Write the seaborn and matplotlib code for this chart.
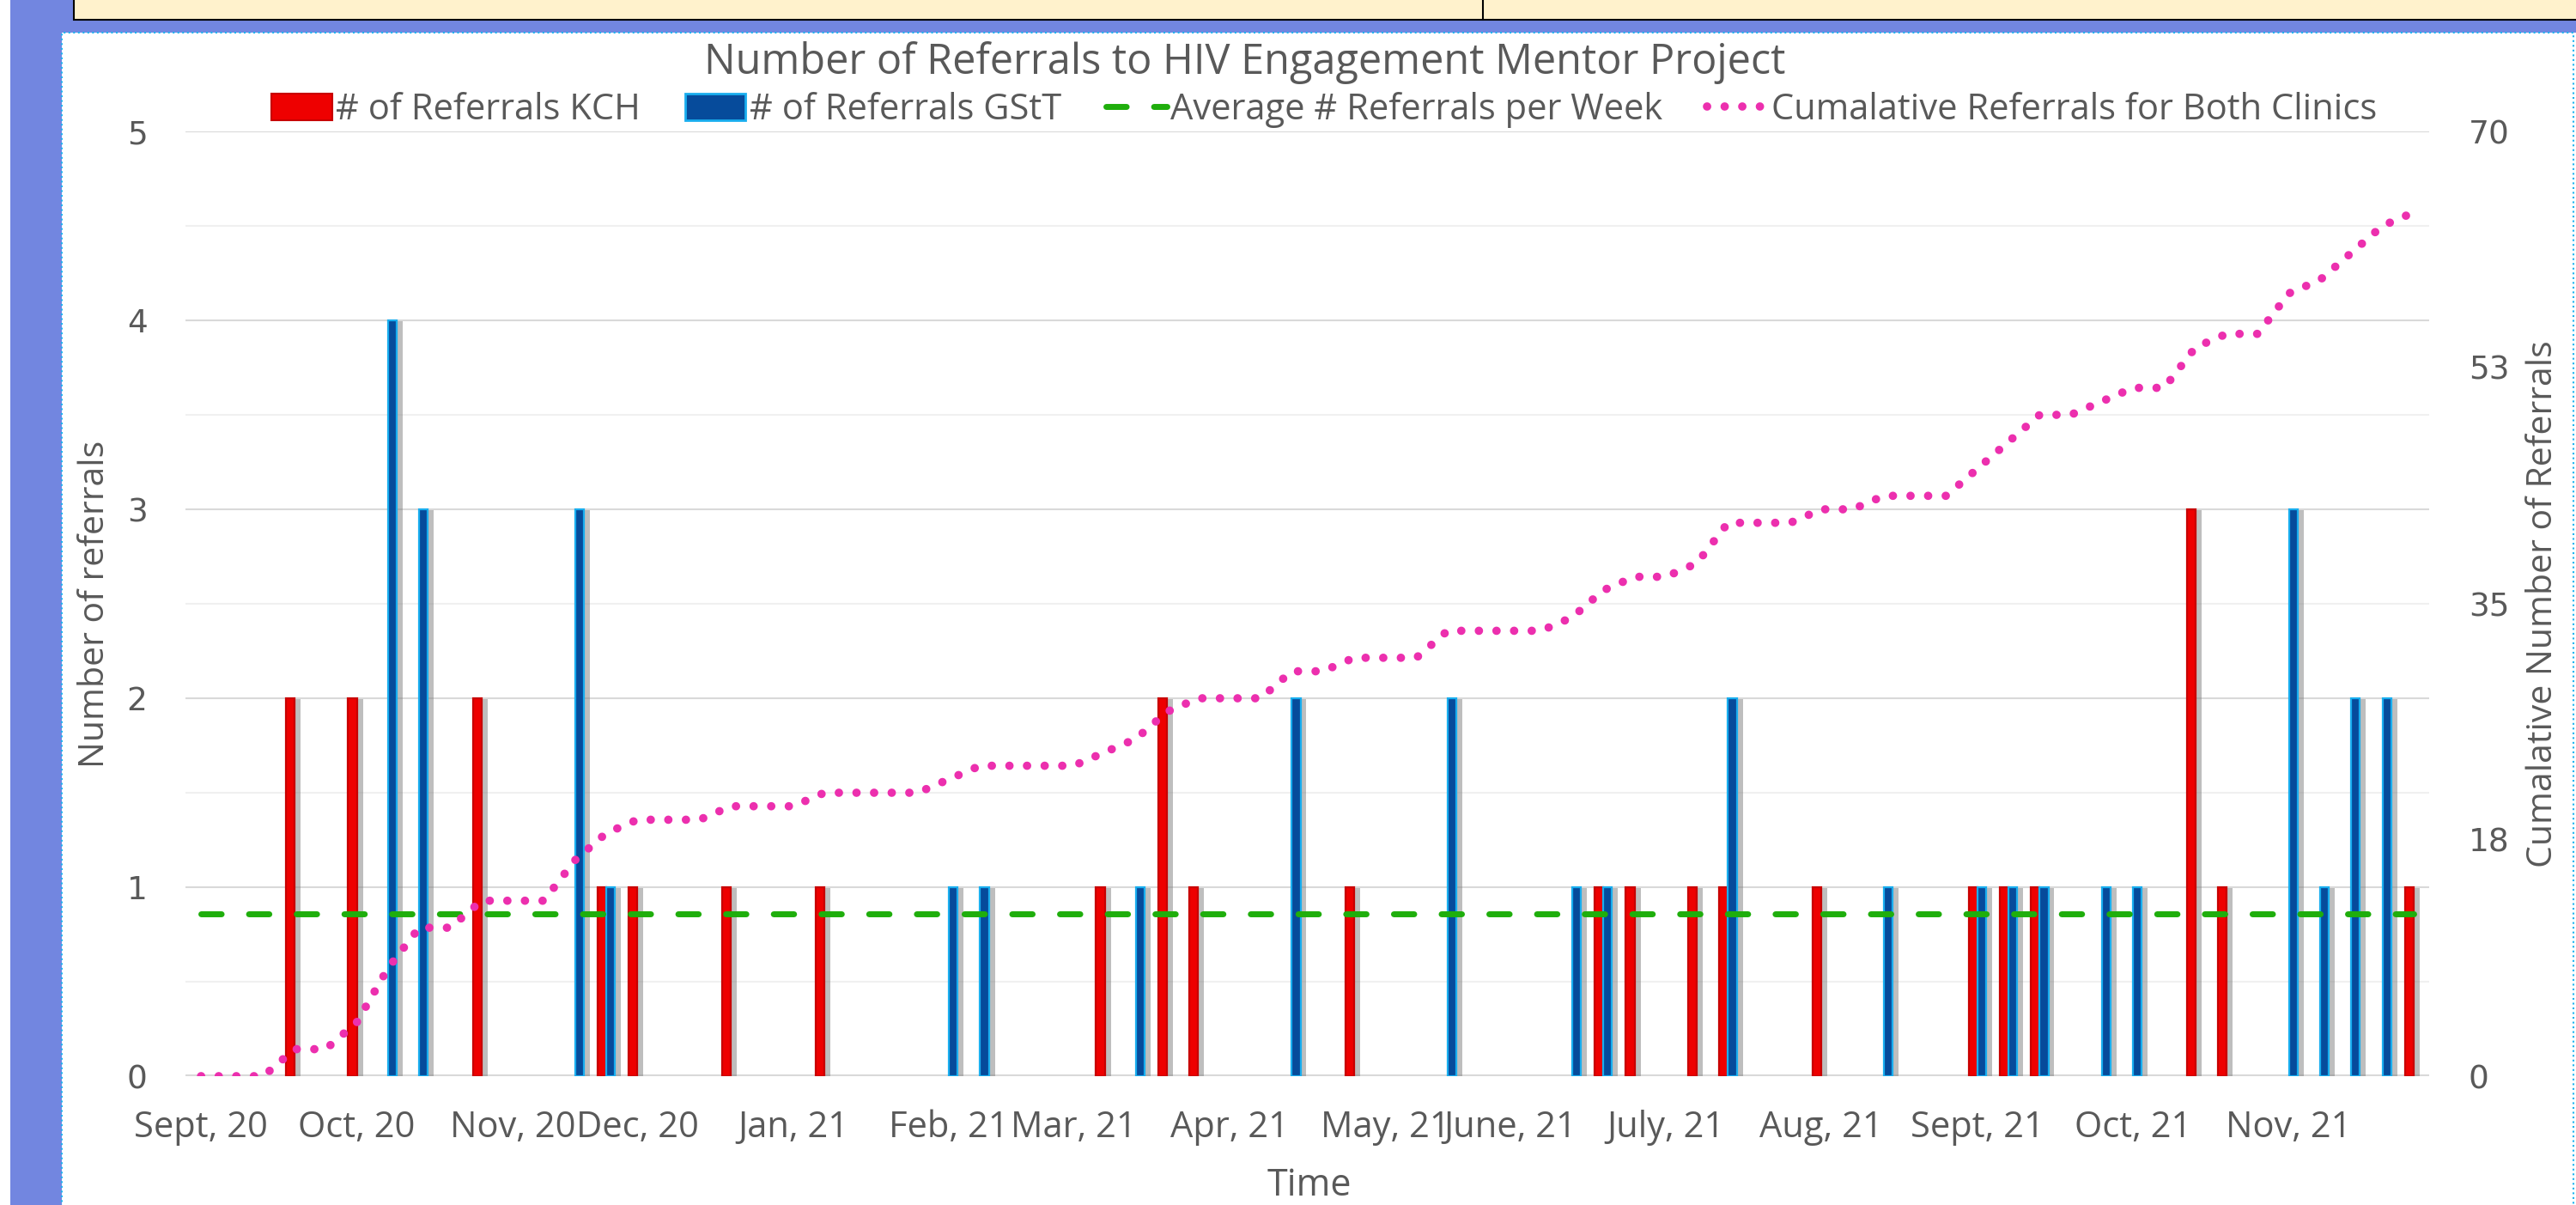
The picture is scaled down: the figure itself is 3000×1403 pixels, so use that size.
import numpy as np
import pandas as pd
import matplotlib
matplotlib.use("Agg")
import matplotlib.pyplot as plt
import matplotlib.patheffects as pe
from matplotlib.patches import Rectangle
from matplotlib.lines import Line2D
from matplotlib.ticker import FixedLocator, FuncFormatter
import seaborn as sns
import math

# weekly referrals, Sept 2020 - Nov 2021 (72 weeks)
kch_referrals = [0, 0, 0, 2, 0, 2, 0, 0, 0, 2,
                 0, 0, 0, 1, 1, 0, 0, 1, 0, 0,
                 1, 0, 0, 0, 0, 0, 0, 0, 0, 1,
                 0, 2, 1, 0, 0, 0, 0, 1, 0, 0,
                 0, 0, 0, 0, 0, 1, 1, 0, 1, 1,
                 0, 0, 1, 0, 0, 0, 0, 1, 1, 1,
                 0, 0, 0, 0, 3, 1, 0, 0, 0, 0,
                 0, 1]
gstt_referrals = [0, 0, 0, 0, 0, 0, 4, 3, 0, 0,
                  0, 0, 3, 1, 0, 0, 0, 0, 0, 0,
                  0, 0, 0, 0, 1, 1, 0, 0, 0, 0,
                  1, 0, 0, 0, 0, 2, 0, 0, 0, 0,
                  2, 0, 0, 0, 1, 1, 0, 0, 0, 2,
                  0, 0, 0, 0, 1, 0, 0, 1, 1, 1,
                  0, 1, 1, 0, 0, 0, 0, 3, 1, 2,
                  2, 0]
cumulative = [0, 0, 0, 2, 2, 4, 8, 11, 11, 13,
              13, 13, 16, 18, 19, 19, 19, 20, 20, 20,
              21, 21, 21, 21, 22, 23, 23, 23, 23, 24,
              25, 27, 28, 28, 28, 30, 30, 31, 31, 31,
              33, 33, 33, 33, 34, 36, 37, 37, 38, 41,
              41, 41, 42, 42, 43, 43, 43, 45, 47, 49,
              49, 50, 51, 51, 54, 55, 55, 58, 59, 61,
              63, 64]
avg_per_week = 0.86

month_labels = {0: "Sept, 20", 5: "Oct, 20", 10: "Nov, 20", 14: "Dec, 20",
                19: "Jan, 21", 24: "Feb, 21", 28: "Mar, 21", 33: "Apr, 21",
                38: "May, 21", 42: "June, 21", 47: "July, 21", 52: "Aug, 21",
                57: "Sept, 21", 62: "Oct, 21", 67: "Nov, 21"}

weeks = list(range(len(kch_referrals)))
week_labels = [month_labels.get(w, "") for w in weeks]

RED = "#EE0000"
BLUE = "#064B9B"
BLUE_EDGE = "#19AEEF"
GREEN = "#1FAE0C"
PINK = "#EC2FAE"
GREY_TXT = "#595959"

sns.set_style("white")
plt.rcParams['font.family'] = ['Open Sans', 'DejaVu Sans']

W, H = 3000, 1403
fig = plt.figure(figsize=(W / 100, H / 100), dpi=100)


def px_rect(x0, y0, x1, y1, **kw):
    # rectangle given in pixel coords measured from the top-left corner
    return Rectangle((x0 / W, 1 - y1 / H), (x1 - x0) / W, (y1 - y0) / H,
                     transform=fig.transFigure, **kw)


# slide decoration around the chart
fig.add_artist(px_rect(12, 0, W, 38, facecolor="#7286E0", edgecolor="none"))
fig.add_artist(px_rect(12, 0, 72, H, facecolor="#7286E0", edgecolor="none"))
fig.add_artist(px_rect(86, -5, W + 5, 23, facecolor="#FFF2CC", edgecolor="black", lw=1.5))
fig.add_artist(Line2D([1727 / W, 1727 / W], [1, 1 - 23 / H], transform=fig.transFigure, color="black", lw=1.5))
fig.add_artist(px_rect(72, 38, 2997, H + 5, facecolor="white", edgecolor="#1FB4F0", lw=1.5, linestyle=":"))

ax = fig.add_axes([216 / W, 150 / H, (2829 - 216) / W, 1100 / H])
ax.set_zorder(1)

df = pd.DataFrame({
    "week": weeks * 2,
    "count": kch_referrals + gstt_referrals,
    "clinic": ["KCH"] * len(weeks) + ["GStT"] * len(weeks),
})
sns.barplot(data=df, x="week", y="count", hue="clinic", order=weeks,
            hue_order=["KCH", "GStT"], palette={"KCH": RED, "GStT": BLUE},
            width=0.56, dodge=True, saturation=1, legend=False, ax=ax, zorder=3)

shadow = [pe.SimplePatchShadow(offset=(5, -1), shadow_rgbFace="#7F7F7F", alpha=0.5), pe.Normal()]
for cont, edge in zip(ax.containers, ["#C80000", BLUE_EDGE]):
    for bar in cont:
        if bar.get_height() == 0:
            bar.set_visible(False)
            continue
        bar.set_edgecolor(edge)
        bar.set_linewidth(1.6)
        bar.set_path_effects(shadow)

sns.lineplot(x=weeks, y=[avg_per_week] * len(weeks), ax=ax, color=GREEN, lw=5,
             linestyle=(0, (3.4, 4.6)), dash_capstyle="round", zorder=5)

ax.set_xlim(-0.5, len(weeks) - 0.5)
ax.set_ylim(0, 5)
ax.yaxis.set_major_locator(FixedLocator([0, 1, 2, 3, 4, 5]))
ax.yaxis.set_minor_locator(FixedLocator([0.5, 1.5, 2.5, 3.5, 4.5]))
ax.grid(axis="y", which="major", color="#D9D9D9", lw=1.5, zorder=0)
ax.grid(axis="y", which="minor", color="#F0F0F0", lw=1.5, zorder=0)
ax.axhline(0, color="#D9D9D9", lw=3, zorder=2)
ax.set_axisbelow(True)
ax.set_xticks(weeks)
ax.set_xticklabels(week_labels)
ax.tick_params(axis="x", length=0, pad=28, labelsize=30, labelcolor=GREY_TXT)
ax.tick_params(axis="y", which="both", length=0, pad=32, labelsize=27, labelcolor=GREY_TXT)
for lab in ax.get_yticklabels():
    lab.set_family("DejaVu Sans")
ax.set_xlabel("")
ax.set_ylabel("")
for s in ax.spines.values():
    s.set_visible(False)

# cumulative total on the secondary axis
ax2 = ax.twinx()
sns.lineplot(x=weeks, y=cumulative, ax=ax2, color=PINK, lw=7,
             linestyle=(0, (0.01, 2.1)), dash_capstyle="round", zorder=6)
ax2.set_ylim(0, 70)
ax2.yaxis.set_major_locator(FixedLocator([0, 17.5, 35, 52.5, 70]))
ax2.yaxis.set_major_formatter(FuncFormatter(lambda v, p: "%d" % math.floor(v + 0.5)))
ax2.tick_params(axis="y", length=0, pad=33, labelsize=27, labelcolor=GREY_TXT)
for lab in ax2.get_yticklabels():
    lab.set_family("DejaVu Sans")
ax2.set_ylabel("")
ax2.grid(False)
for s in ax2.spines.values():
    s.set_visible(False)

fig.text(0.4833, 1 - 73 / H, "Number of Referrals to HIV Engagement Mentor Project",
         ha="center", va="center", fontsize=35, color=GREY_TXT)
fig.text(111 / W, 1 - 703 / H, "Number of referrals", rotation=90,
         ha="center", va="center", fontsize=29.5, color=GREY_TXT)
fig.text(2962 / W, 1 - 703 / H, "Cumalative Number of Referrals", rotation=90,
         ha="center", va="center", fontsize=29.5, color=GREY_TXT)
fig.text(1525 / W, 1 - 1381 / H, "Time", ha="center", va="center",
         fontsize=31, color=GREY_TXT)

handles = [
    Rectangle((0, 0), 1, 1, facecolor=RED, edgecolor="#C80000", lw=1.5),
    Rectangle((0, 0), 1, 1, facecolor=BLUE, edgecolor=BLUE_EDGE, lw=2),
    Line2D([], [], color=GREEN, lw=5, linestyle=(0, (3.4, 4.6)), dash_capstyle="round"),
    Line2D([], [], color=PINK, lw=7, linestyle=(0, (0.01, 2.1)), dash_capstyle="round"),
]
labels = ["# of Referrals KCH", "# of Referrals GStT",
          "Average # Referrals per Week", "Cumalative Referrals for Both Clinics"]
leg = fig.legend(handles, labels, loc="center", bbox_to_anchor=(0.514, 1 - 128 / H),
                 ncol=4, frameon=False, fontsize=30, handlelength=1.7, handleheight=0.8,
                 handletextpad=0.1, columnspacing=1.25, labelcolor=GREY_TXT)

fig.savefig("out.png", dpi=100)
